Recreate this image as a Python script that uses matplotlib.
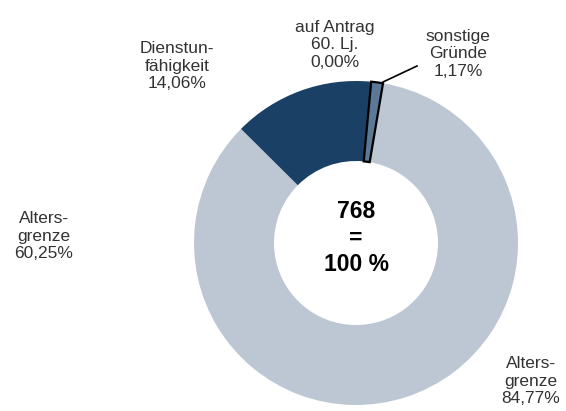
import matplotlib
matplotlib.use("Agg")
import matplotlib.pyplot as plt

plt.rcParams['font.family'] = ['Liberation Sans', 'DejaVu Sans']

categories = ["Altersgrenze", "Dienstunfähigkeit", "auf Antrag 60. Lj.", "sonstige Gründe"]
values = [84.77, 14.06, 0.00, 1.17]
colors = ["#bcc7d3", "#1a4165", "#5b7897", "#5b7897"]
total = 768

W, H = 566, 411
fig = plt.figure(figsize=(W/100, H/100), dpi=100)
ax = fig.add_axes([0, 0, 1, 1])

cx, cy, R = 356, H - 243, 162
wedges, _ = ax.pie(values, colors=colors, startangle=80.4, counterclock=False,
                   center=(cx, cy), radius=R, frame=True,
                   wedgeprops=dict(width=80, edgecolor='none'))
ax.set_xlim(0, W)
ax.set_ylim(0, H)
ax.axis('off')
wedges[3].set_edgecolor('black')
wedges[3].set_linewidth(1.6)

fs = 12.5
tc = "#333333"
ls = 1.22
ax.text(177, H - 66, "Dienstun-\nfähigkeit\n14,06%", ha='center', va='center', fontsize=fs, color=tc, linespacing=ls)
ax.text(335, H - 45, "auf Antrag\n60. Lj.\n0,00%", ha='center', va='center', fontsize=fs, color=tc, linespacing=ls)
ax.text(458, H - 54, "sonstige\nGründe\n1,17%", ha='center', va='center', fontsize=fs, color=tc, linespacing=ls)
ax.text(44, H - 236, "Alters-\ngrenze\n60,25%", ha='center', va='center', fontsize=fs, color=tc, linespacing=ls)
ax.text(531, H - 381, "Alters-\ngrenze\n84,77%", ha='center', va='center', fontsize=fs, color=tc, linespacing=ls)

ax.plot([383, 417], [H - 82, H - 66], color='black', lw=1.2)

ax.text(cx, cy + 5, f"{total}\n=\n100 %", ha='center', va='center', fontsize=16.5, fontweight='bold', color='black', linespacing=1.22)

fig.savefig("out.png", dpi=100)
